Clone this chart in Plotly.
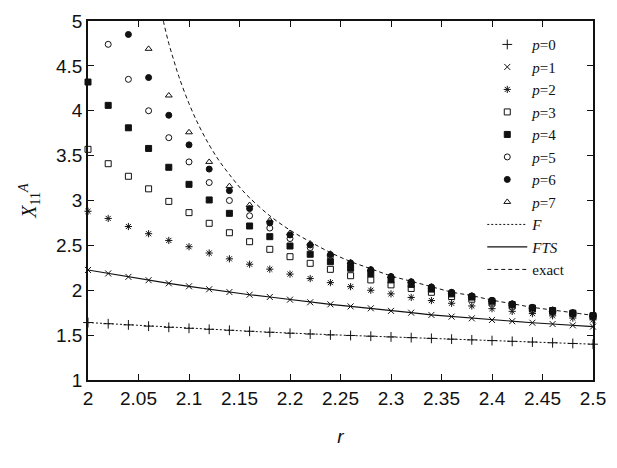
import plotly.graph_objects as go

# separation r (data points every 0.02)
r = [2.00, 2.02, 2.04, 2.06, 2.08, 2.10, 2.12, 2.14, 2.16, 2.18, 2.20, 2.22, 2.24,
     2.26, 2.28, 2.30, 2.32, 2.34, 2.36, 2.38, 2.40, 2.42, 2.44, 2.46, 2.48, 2.50]

p0 = [1.640, 1.627, 1.614, 1.600, 1.587, 1.576, 1.565, 1.554, 1.543, 1.532, 1.521, 1.512, 1.502,
      1.496, 1.488, 1.480, 1.472, 1.464, 1.455, 1.447, 1.439, 1.431, 1.423, 1.415, 1.407, 1.399]
p1 = [2.226, 2.187, 2.149, 2.112, 2.077, 2.044, 2.011, 1.980, 1.950, 1.925, 1.895, 1.866, 1.843,
      1.820, 1.799, 1.770, 1.750, 1.725, 1.706, 1.687, 1.669, 1.655, 1.638, 1.624, 1.609, 1.595]
p2 = [2.880, 2.800, 2.710, 2.630, 2.555, 2.485, 2.415, 2.350, 2.290, 2.235, 2.180, 2.130, 2.085,
      2.040, 2.000, 1.960, 1.920, 1.885, 1.855, 1.825, 1.795, 1.765, 1.740, 1.715, 1.690, 1.670]
p3 = [3.570, 3.410, 3.270, 3.130, 2.990, 2.865, 2.746, 2.641, 2.541, 2.456, 2.374, 2.300, 2.233,
      2.162, 2.115, 2.060, 2.020, 1.977, 1.930, 1.900, 1.858, 1.824, 1.790, 1.764, 1.737, 1.710]
p4 = [4.320, 4.060, 3.810, 3.580, 3.370, 3.180, 3.006, 2.857, 2.716, 2.597, 2.493, 2.401, 2.318,
      2.245, 2.182, 2.115, 2.065, 2.013, 1.959, 1.924, 1.877, 1.840, 1.802, 1.774, 1.745, 1.716]
p5 = [None, 4.740, 4.350, 4.000, 3.700, 3.430, 3.200, 3.000, 2.830, 2.693, 2.576, 2.476, 2.376,
      2.290, 2.219, 2.146, 2.090, 2.033, 1.975, 1.935, 1.886, 1.847, 1.808, 1.778, 1.748, 1.718]
p6 = [None, None, 4.850, 4.370, 3.950, 3.620, 3.350, 3.110, 2.910, 2.750, 2.616, 2.504, 2.396,
      2.304, 2.229, 2.153, 2.095, 2.037, 1.977, 1.937, 1.888, 1.848, 1.809, 1.779, 1.749, 1.719]
p7 = [None, None, None, 4.690, 4.170, 3.760, 3.430, 3.160, 2.950, 2.780, 2.638, 2.520, 2.407,
      2.312, 2.235, 2.157, 2.097, 2.039, 1.979, 1.938, 1.889, 1.849, 1.810, 1.780, 1.750, 1.720]

# exact solution curve
r_exact = [2.070, 2.075, 2.080, 2.085, 2.090, 2.100, 2.110, 2.120, 2.130, 2.140, 2.150, 2.160,
           2.180, 2.200, 2.220, 2.240, 2.260, 2.280, 2.300, 2.320, 2.340, 2.360, 2.380, 2.400,
           2.420, 2.440, 2.460, 2.480, 2.500]
x_exact = [5.23, 4.98, 4.75, 4.56, 4.38, 4.08, 3.83, 3.62, 3.44, 3.29, 3.15, 3.03,
           2.83, 2.67, 2.54, 2.42, 2.32, 2.24, 2.16, 2.10, 2.04, 1.98, 1.94, 1.89,
           1.85, 1.81, 1.78, 1.75, 1.72]

x_ticks = [2.0, 2.05, 2.1, 2.15, 2.2, 2.25, 2.3, 2.35, 2.4, 2.45, 2.5]
x_tick_text = ["2", "2.05", "2.1", "2.15", "2.2", "2.25", "2.3", "2.35", "2.4", "2.45", "2.5"]
y_ticks = [1, 1.5, 2, 2.5, 3, 3.5, 4, 4.5, 5]
y_tick_text = ["1", "1.5", "2", "2.5", "3", "3.5", "4", "4.5", "5"]

INK = "#111111"
SERIF = "Liberation Serif, Times New Roman, serif"
SANS = "Liberation Sans, Arial, sans-serif"

fig = go.Figure()

marker_series = [
    ("<i>p</i>=0", p0, "cross-thin-open", 7),
    ("<i>p</i>=1", p1, "x-thin-open", 6),
    ("<i>p</i>=2", p2, "asterisk-open", 6),
    ("<i>p</i>=3", p3, "square-open", 6),
    ("<i>p</i>=4", p4, "square", 6),
    ("<i>p</i>=5", p5, "circle-open", 6),
    ("<i>p</i>=6", p6, "circle", 6),
    ("<i>p</i>=7", p7, "triangle-up-open", 6),
]
for name, vals, sym, size in marker_series:
    fig.add_trace(go.Scatter(
        x=r, y=vals, mode="markers", name=name, cliponaxis=False,
        marker=dict(symbol=sym, size=size, color=INK, line=dict(color=INK, width=1)),
    ))

fig.add_trace(go.Scatter(x=r, y=p0, mode="lines", name="<i>F</i>",
                         line=dict(color=INK, width=1, dash="2px,2px")))
fig.add_trace(go.Scatter(x=r, y=p1, mode="lines", name="<i>FTS</i>",
                         line=dict(color=INK, width=1.2)))
fig.add_trace(go.Scatter(x=r_exact, y=x_exact, mode="lines", name="exact",
                         line=dict(color=INK, width=1, dash="4px,3px", shape="spline")))

axis_common = dict(
    showgrid=False, zeroline=False, showline=True, linecolor=INK, linewidth=1.5,
    mirror="ticks", ticks="inside", ticklen=6, tickwidth=1.2, tickcolor=INK,
    tickfont=dict(family=SANS, size=19, color=INK),
)

fig.update_layout(
    width=617, height=468,
    margin=dict(l=88, r=24, t=21, b=88),
    paper_bgcolor="white", plot_bgcolor="white",
    showlegend=True,
    legend=dict(
        x=0.955, y=0.98, xanchor="right", yanchor="top",
        bgcolor="rgba(0,0,0,0)", borderwidth=0,
        font=dict(family=SERIF, size=15, color=INK),
        tracegroupgap=0, itemwidth=40,
    ),
    xaxis=dict(range=[2.0, 2.5], tickvals=x_ticks, ticktext=x_tick_text,
               title=dict(text="<i>r</i>", font=dict(family=SANS, size=19, color=INK), standoff=22),
               **axis_common),
    yaxis=dict(range=[1, 5], tickvals=y_ticks, ticktext=y_tick_text,
               title=dict(text="<i>X</i><sub>11</sub><sup><i>A</i></sup>",
                          font=dict(family=SERIF, size=20, color=INK), standoff=14),
               **axis_common),
)

fig.write_html("out.html")
